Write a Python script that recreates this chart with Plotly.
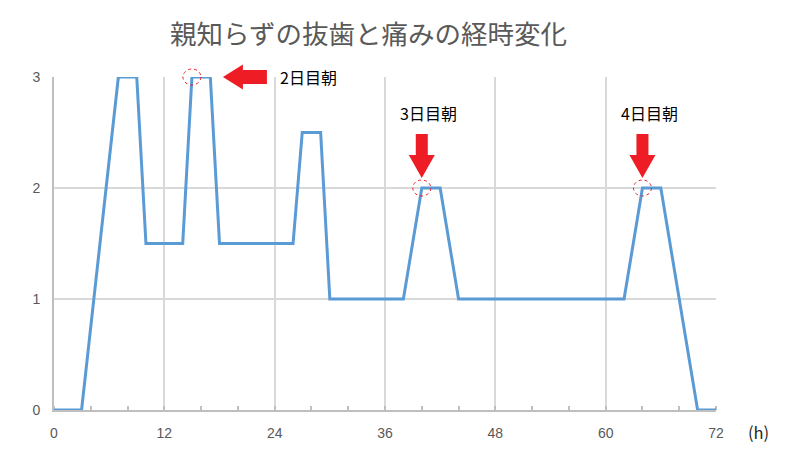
import plotly.graph_objects as go

# data
hours = [0, 3, 7, 9, 10, 14, 15, 17, 18, 26, 27, 29, 30, 38, 40, 42, 44, 62, 64, 66, 70, 72]
pain = [0, 0, 3, 3, 1.5, 1.5, 3, 3, 1.5, 1.5, 2.5, 2.5, 1, 1, 2, 2, 1, 1, 2, 2, 0, 0]

mark_x = [15, 40, 64]
mark_y = [3, 2, 2]
mark_labels = ["2日目朝", "3日目朝", "4日目朝"]
mark_dir = ["left", "down", "down"]

x_ticks = [0, 12, 24, 36, 48, 60, 72]
y_ticks = [0, 1, 2, 3]

title = "親知らずの抜歯と痛みの経時変化"
x_unit = "(h)"

X_RANGE = [0, 72]
Y_RANGE = [0, 3]

RED = "#EE1C25"
GRID = "#D9D9D9"
AXIS = "#BFBFBF"
TXT = "#595959"


def to_paper(v, rng):
    return (v - rng[0]) / (rng[1] - rng[0])


fig = go.Figure()
fig.add_trace(go.Scatter(
    x=hours, y=pain, mode="lines",
    line=dict(color="#5B9BD5", width=3),
    cliponaxis=False, hoverinfo="skip", showlegend=False,
))

shapes = []
annotations = []
for mx, my, lab, d in zip(mark_x, mark_y, mark_labels, mark_dir):
    px_ = to_paper(mx, X_RANGE)
    py_ = to_paper(my, Y_RANGE)
    shapes.append(dict(
        type="circle", xref="paper", yref="paper", xsizemode="pixel", ysizemode="pixel",
        xanchor=px_, yanchor=py_, x0=-9, x1=9, y0=-8, y1=8,
        line=dict(color=RED, width=1, dash="dot"), layer="above",
    ))
    if d == "left":
        path = "M 31 0 L 51 12.5 L 51 7 L 75 7 L 75 -7 L 51 -7 L 51 -12.5 Z"
        annotations.append(dict(
            x=mx, y=my, xref="x", yref="y", text=lab, showarrow=False,
            xanchor="left", yanchor="middle", xshift=86, yshift=0,
            font=dict(family="Noto Sans CJK JP", size=16, color="#000000"),
        ))
    else:
        path = "M 0 10 L -13 33 L -6 33 L -6 54 L 6 54 L 6 33 L 13 33 Z"
        annotations.append(dict(
            x=mx, y=my, xref="x", yref="y", text=lab, showarrow=False,
            xanchor="center", yanchor="middle", xshift=7, yshift=75,
            font=dict(family="Noto Sans CJK JP", size=16, color="#000000"),
        ))
    shapes.append(dict(
        type="path", xref="paper", yref="paper", xsizemode="pixel", ysizemode="pixel",
        xanchor=px_, yanchor=py_, path=path,
        fillcolor=RED, line=dict(width=0), layer="above",
    ))

annotations.append(dict(
    x=0.4755, y=1, xref="paper", yref="paper", yanchor="middle",
    yshift=45, text=title, showarrow=False,
    font=dict(family="Noto Sans CJK JP", size=26.5, color=TXT),
))
annotations.append(dict(
    x=1, y=0, xref="paper", yref="paper", xanchor="left", yanchor="middle",
    xshift=30, yshift=-22, text=x_unit, showarrow=False,
    font=dict(family="Noto Sans CJK JP", size=16.5, color="#262626"),
))

fig.update_layout(
    width=794, height=455,
    margin=dict(l=54, r=78, t=77, b=45, autoexpand=False),
    paper_bgcolor="white", plot_bgcolor="white",
    shapes=shapes, annotations=annotations,
    xaxis=dict(
        range=X_RANGE, tickvals=x_ticks, ticktext=[str(v) for v in x_ticks],
        showgrid=True, gridcolor=GRID, gridwidth=2,
        showline=True, linecolor=AXIS, linewidth=2, layer="below traces",
        zeroline=False, ticks="", ticklabelstandoff=9, automargin=False,
        minor=dict(dtick=4, tick0=0, ticks="inside", ticklen=4, tickcolor=AXIS, tickwidth=1.5, showgrid=False),
        tickfont=dict(family="Liberation Sans", size=14, color=TXT),
        fixedrange=True,
    ),
    yaxis=dict(
        range=Y_RANGE, tickvals=y_ticks, ticktext=[str(v) for v in y_ticks],
        showgrid=True, gridcolor=GRID, gridwidth=2,
        showline=True, linecolor=AXIS, linewidth=2, layer="below traces",
        zeroline=False, ticks="", ticklabelstandoff=9, automargin=False,
        tickfont=dict(family="Liberation Sans", size=14, color=TXT),
        fixedrange=True,
    ),
)

fig.write_html("out.html", config={"displayModeBar": False},
               post_script="document.body.style.margin='0';")
